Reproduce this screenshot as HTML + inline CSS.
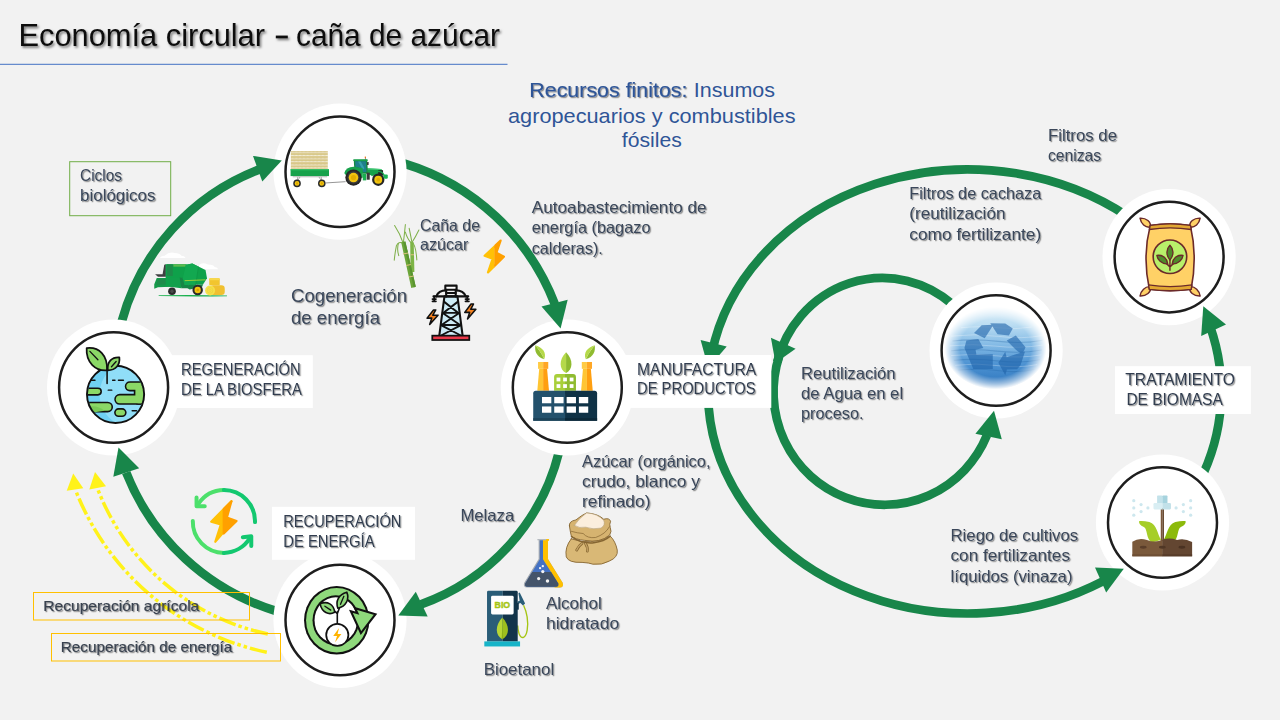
<!DOCTYPE html>
<html><head><meta charset="utf-8"><title>Economía circular</title>
<style>
html,body{margin:0;padding:0;background:#f2f2f2;}
body{width:1280px;height:720px;overflow:hidden;position:relative;font-family:"Liberation Sans",sans-serif;}
svg{position:absolute;left:0;top:0;display:block}
text{font-family:"Liberation Sans",sans-serif;}
</style></head><body>
<svg width="1280" height="720" viewBox="0 0 1280 720">
<defs>
<filter id="ts" x="-10%" y="-30%" width="120%" height="170%"><feDropShadow dx="1.2" dy="1.2" stdDeviation="0.6" flood-color="#000" flood-opacity="0.42"/></filter>
<filter id="ts2" x="-10%" y="-30%" width="120%" height="170%"><feDropShadow dx="1.5" dy="1.8" stdDeviation="1.2" flood-color="#000" flood-opacity="0.5"/></filter>
</defs>
<rect width="1280" height="720" fill="#f2f2f2"/>

<rect x="0" y="63.8" width="507.5" height="1" fill="#4472C4"/>
<g filter="url(#ts2)" font-size="32" fill="#111"><text x="18.5" y="46" textLength="246.5" lengthAdjust="spacingAndGlyphs">Economía circular</text><rect x="275.8" y="35.6" width="12" height="2.7"/><text x="296" y="46" textLength="204" lengthAdjust="spacingAndGlyphs">caña de azúcar</text></g>
<path d="M266.8,652.3 A264,264 0 0 1 75.5,490" fill="none" stroke="#FFF21A" stroke-width="3.5" stroke-dasharray="17.5 3 3.5 3 3.5 3"/>
<path d="M267.8,634 A234,234 0 0 1 97.5,488.5" fill="none" stroke="#FFF21A" stroke-width="3.5" stroke-dasharray="17.5 3 3.5 3 3.5 3"/>
<polygon points="73.2,473.5 66.7,490.8 83.3,488.3" fill="#FFF21A"/>
<polygon points="95.0,472.1 89.3,489.6 106.0,486.3" fill="#FFF21A"/>
<path d="M121.6,322.0 A227,227 0 0 1 259.5,169.3" fill="none" stroke="#18864A" stroke-width="8.8" />
<path d="M404.0,163.5 A235,235 0 0 1 554.8,304.0" fill="none" stroke="#18864A" stroke-width="8.8" />
<path d="M559.0,452.0 A218,218 0 0 1 421.0,604.3" fill="none" stroke="#18864A" stroke-width="8.8" />
<path d="M276.0,611.0 A235,235 0 0 1 126.2,472.5" fill="none" stroke="#18864A" stroke-width="8.8" />
<path d="M1128.1,216.6 A260,222 0 0 0 711.9,353.0" fill="none" stroke="#18864A" stroke-width="8.7" />
<path d="M708.6,407.0 A260,222 0 0 0 1113.4,575.5" fill="none" stroke="#18864A" stroke-width="8.7" />
<path d="M1199.4,481.8 A253.3,222 0 0 0 1210.2,326.6" fill="none" stroke="#18864A" stroke-width="8.7" />
<path d="M952.6,304.4 A109,113 0 0 0 777.2,361.8" fill="none" stroke="#18864A" stroke-width="8.7" />
<path d="M779.2,356.1 A111,113 0 0 0 987.0,435.2" fill="none" stroke="#18864A" stroke-width="8.7" />
<polygon points="708.3,368.0 700.6,340.0 726.7,346.4" fill="#18864A"/>
<rect x="170" y="355.2" width="142.8" height="52.8" fill="#fff"/>
<rect x="600" y="355" width="171.3" height="52.9" fill="#fff"/>
<rect x="272" y="506.8" width="143" height="53" fill="#fff"/>
<rect x="1115" y="366.2" width="135.9" height="47.8" fill="#fff"/>
<ellipse cx="340.0" cy="171.7" rx="66.6" ry="68.1" fill="#fff"/>
<ellipse cx="113.6" cy="387.5" rx="66.6" ry="68.1" fill="#fff"/>
<ellipse cx="567.3" cy="387.5" rx="66.6" ry="68.1" fill="#fff"/>
<ellipse cx="340.0" cy="620.0" rx="66.6" ry="68.1" fill="#fff"/>
<ellipse cx="1169.1" cy="257.1" rx="66.6" ry="68.1" fill="#fff"/>
<ellipse cx="996.1" cy="350.5" rx="66.6" ry="68.1" fill="#fff"/>
<ellipse cx="1162.5" cy="522.5" rx="66.6" ry="68.1" fill="#fff"/>
<polygon points="281.8,160.4 253.0,155.9 262.3,181.6" fill="#18864A"/>
<polygon points="560.6,328.5 541.5,306.5 567.7,299.8" fill="#18864A"/>
<polygon points="398.3,615.4 415.8,591.7 427.7,616.4" fill="#18864A"/>
<polygon points="118.5,447.5 113.3,476.7 139.2,468.3" fill="#18864A"/>
<polygon points="775.5,363.0 770.9,337.8 795.6,348.7" fill="#18864A"/>
<polygon points="994.0,410.7 975.4,433.8 1001.8,439.2" fill="#18864A"/>
<polygon points="1123.8,568.8 1095.0,567.5 1106.2,592.5" fill="#18864A"/>
<polygon points="1203.3,306.2 1201.2,336.0 1226.0,324.6" fill="#18864A"/>
<ellipse cx="340.0" cy="171.7" rx="54.5" ry="55.3" fill="#fff" stroke="#1e1e1e" stroke-width="2.5"/>
<ellipse cx="113.6" cy="387.5" rx="54.5" ry="55.3" fill="#fff" stroke="#1e1e1e" stroke-width="2.5"/>
<ellipse cx="567.3" cy="387.5" rx="54.5" ry="55.3" fill="#fff" stroke="#1e1e1e" stroke-width="2.5"/>
<ellipse cx="340.0" cy="620.0" rx="54.5" ry="55.3" fill="#fff" stroke="#1e1e1e" stroke-width="2.5"/>
<ellipse cx="1169.1" cy="257.1" rx="54.5" ry="55.3" fill="#fff" stroke="#1e1e1e" stroke-width="2.5"/>
<ellipse cx="996.1" cy="350.5" rx="54.5" ry="55.3" fill="#fff" stroke="#1e1e1e" stroke-width="2.5"/>
<ellipse cx="1162.5" cy="522.5" rx="54.5" ry="55.3" fill="#fff" stroke="#1e1e1e" stroke-width="2.5"/>
<!-- tractor + trailer -->
<defs>
<pattern id="hay" width="44" height="72" patternUnits="userSpaceOnUse">
<rect width="44" height="72" fill="#F6F2E2"/>
<path d="M0,34 L11,6 L22,34 L33,6 L44,34 M0,70 L11,42 L22,70 L33,42 L44,70" stroke="#CBB665" stroke-width="9" fill="none"/>
<path d="M0,22 L44,22 M0,58 L44,58" stroke="#DCCB8C" stroke-width="7"/>
</pattern>
</defs>
<g transform="translate(285,140) scale(0.08594)">
<rect x="68" y="128" width="430" height="213" fill="url(#hay)"/>
<rect x="65" y="340" width="447" height="80" fill="#17A24B"/>
<rect x="65" y="340" width="447" height="13" fill="#2FBF63"/>
<path d="M90,428 L490,428" stroke="#8a8a8a" stroke-width="7"/>
<path d="M175,430 L142,480 M150,430 L140,470 M395,430 L428,480 M420,430 L428,470" stroke="#666" stroke-width="6" fill="none"/>
<circle cx="140" cy="505" r="44" fill="#2b2b2b"/><circle cx="140" cy="505" r="27" fill="#F2C40F"/><circle cx="140" cy="505" r="12" fill="#D9A400"/>
<circle cx="428" cy="505" r="44" fill="#2b2b2b"/><circle cx="428" cy="505" r="27" fill="#F2C40F"/><circle cx="428" cy="505" r="12" fill="#D9A400"/>
<path d="M470,500 L705,485" stroke="#666" stroke-width="8"/>
<!-- tractor -->
<path d="M958,328 L1118,338 L1140,362 L1140,408 L1010,414 L958,398 Z" fill="#17A24B"/>
<path d="M958,328 L1118,338 L1128,350 L958,342 Z" fill="#49CF7C"/>
<rect x="1085" y="352" width="56" height="56" fill="#242424"/>
<path d="M800,232 L956,230 L966,392 L905,392 L842,332 L806,332 Z" fill="#138A41"/>
<path d="M816,248 L940,246 L948,372 L912,374 L852,318 L820,318 Z" fill="#1E7F8C"/>
<path d="M850,250 L880,250 L925,330 L905,345 Z" fill="#39A8B3" opacity="0.8"/>
<rect x="794" y="224" width="168" height="20" rx="6" fill="#19A04B"/>
<rect x="928" y="193" width="14" height="20" fill="#E8731A"/><rect x="932" y="212" width="6" height="14" fill="#333"/>
<rect x="955" y="255" width="18" height="36" rx="6" fill="#2e2e2e"/>
<rect x="950" y="380" width="36" height="82" fill="#3a3a3a"/>
<rect x="905" y="395" width="40" height="75" fill="#19B050"/>
<path d="M690,385 Q705,318 800,312 L905,330 L905,440 L800,440 L700,400 Z" fill="#17A24B"/>
<circle cx="797" cy="437" r="95" fill="#262626"/><circle cx="797" cy="437" r="72" fill="#3b3b3b"/><circle cx="797" cy="437" r="56" fill="#F2C40F"/><circle cx="797" cy="437" r="30" fill="#E2AE00"/>
<path d="M1010,420 A76,76 0 0 1 1158,430" fill="none" stroke="#17A24B" stroke-width="14"/>
<circle cx="1085" cy="462" r="72" fill="#262626"/><circle cx="1085" cy="462" r="46" fill="#F2C40F"/><circle cx="1085" cy="462" r="22" fill="#E2AE00"/>
<rect x="1148" y="400" width="48" height="50" rx="14" fill="#1BB554"/>
</g>
<!-- earth -->
<defs><clipPath id="globeClip"><circle cx="326" cy="407" r="190"/></clipPath></defs>
<g transform="translate(68,335) scale(0.14586)">
<circle cx="326" cy="407" r="196" fill="#90DEF8"/>
<path d="M326,211 A196,196 0 0 0 326,603 A230,230 0 0 1 326,211 Z" fill="#6FD0F3"/>
<g clip-path="url(#globeClip)">
<g fill="#111" stroke="#111" stroke-width="22" stroke-linejoin="round">
<rect x="400" y="328" width="140" height="48" rx="24"/><rect x="462" y="350" width="90" height="118" rx="20"/><rect x="328" y="414" width="200" height="54" rx="27"/>
<rect x="110" y="371" width="112" height="34" rx="17"/>
<rect x="100" y="468" width="198" height="52" rx="26"/>
<rect x="327" y="512" width="64" height="40" rx="20"/>
</g>
<g fill="#8BD867">
<rect x="400" y="328" width="140" height="48" rx="24"/><rect x="462" y="350" width="90" height="118" rx="20"/><rect x="328" y="414" width="200" height="54" rx="27"/>
<rect x="110" y="371" width="112" height="34" rx="17"/>
<rect x="100" y="468" width="198" height="52" rx="26"/>
<rect x="327" y="512" width="64" height="40" rx="20"/>
</g>
<path d="M120,500 Q190,470 250,520 L120,540 Z" fill="#79C957"/>
</g>
<circle cx="326" cy="407" r="196" fill="none" stroke="#111" stroke-width="13"/>
<path d="M306,310 L322,310 M346,310 L380,310 M276,378 L300,378 M160,310 L185,310 M440,520 L470,520" stroke="#111" stroke-width="10" stroke-linecap="round"/>
<path d="M268,242 C190,248 122,190 128,90 C215,80 272,140 268,242 Z" fill="#8BD867" stroke="#111" stroke-width="12" stroke-linejoin="round"/>
<path d="M150,112 L205,170" stroke="#111" stroke-width="9" stroke-linecap="round"/>
<path d="M272,242 C268,182 300,150 352,153 C358,202 330,242 272,242 Z" fill="#8BD867" stroke="#111" stroke-width="12" stroke-linejoin="round"/>
<path d="M298,218 L330,182" stroke="#111" stroke-width="9" stroke-linecap="round"/>
<path d="M268,238 L268,332" stroke="#111" stroke-width="11" stroke-linecap="round"/>
</g>
<!-- factory -->
<g transform="translate(522,335) scale(0.14586)">
<!-- chimneys -->
<g id="chim">
<path d="M118,232 L145,232 L145,382 L105,382 Z" fill="#FFC533"/><path d="M145,232 L172,232 L185,382 L145,382 Z" fill="#FF9F10"/>
<rect x="110" y="185" width="35" height="47" fill="#FFCB45"/><rect x="145" y="185" width="35" height="47" fill="#FFA726"/>
</g>
<use href="#chim" x="300"/>
<!-- green building -->
<path d="M220,382 L220,288 Q220,268 240,268 L295,268 L295,382 Z" fill="#A8CF3A"/>
<path d="M295,268 L350,268 Q370,268 370,288 L370,382 L295,382 Z" fill="#8FBB30"/>
<g fill="#fff"><rect x="237" y="292" width="26" height="26"/><rect x="282" y="292" width="26" height="26"/><rect x="327" y="292" width="26" height="26"/><rect x="237" y="337" width="26" height="26"/><rect x="282" y="337" width="26" height="26"/><rect x="327" y="337" width="26" height="26"/></g>
<!-- base -->
<path d="M77,588 L77,400 Q77,382 95,382 L295,382 L295,588 Z" fill="#23516C"/>
<path d="M295,382 L497,382 Q515,382 515,400 L515,588 L295,588 Z" fill="#0F3246"/>
<rect x="77" y="570" width="218" height="18" fill="#1B4258"/><rect x="295" y="570" width="220" height="18" fill="#0B2838"/>
<g fill="#fff"><rect x="137" y="425" width="64" height="43"/><rect x="221" y="425" width="64" height="43"/><rect x="306" y="425" width="64" height="43"/><rect x="390" y="425" width="64" height="43"/>
<rect x="137" y="490" width="64" height="43"/><rect x="221" y="490" width="64" height="43"/><rect x="306" y="490" width="64" height="43"/><rect x="390" y="490" width="64" height="43"/></g>
<!-- leaves -->
<path d="M302,118 C250,170 255,238 302,260 Z" fill="#B5D94A"/><path d="M302,118 C354,170 349,238 302,260 Z" fill="#8FBB30"/>
<path d="M152,166 C100,150 84,110 92,70 C112,95 135,125 152,166 Z" fill="#8FBB30"/><path d="M152,166 C172,122 140,84 92,70 C112,95 135,125 152,166 Z" fill="#B5D94A"/>
<path d="M438,166 C490,150 506,110 498,70 C478,95 455,125 438,166 Z" fill="#8FBB30"/><path d="M438,166 C418,122 450,84 498,70 C478,95 455,125 438,166 Z" fill="#B5D94A"/>
</g>
<!-- energy recovery ring -->
<g transform="translate(295,570) scale(0.14586)">
<ellipse cx="286" cy="345" rx="224" ry="235" fill="#111"/>
<ellipse cx="286" cy="345" rx="210" ry="221" fill="#8FD97C"/>
<ellipse cx="280" cy="345" rx="160" ry="172" fill="#111"/>
<ellipse cx="280" cy="345" rx="146" ry="158" fill="#fff"/>
<path d="M383,283 L428,296 L412,262 L552,303 L452,432 Z" fill="#8FD97C" stroke="#111" stroke-width="14" stroke-linejoin="miter"/>
<path d="M290,372 L290,288 M290,300 L262,272 M290,300 L312,240" stroke="#111" stroke-width="11" stroke-linecap="round" fill="none"/>
<path d="M272,290 C232,312 185,292 172,232 C222,210 266,236 272,290 Z" fill="#8FD97C" stroke="#111" stroke-width="11" stroke-linejoin="round"/>
<path d="M205,248 L245,275" stroke="#111" stroke-width="9" stroke-linecap="round"/>
<path d="M294,262 C276,215 300,166 355,152 C375,200 350,250 294,262 Z" fill="#8FD97C" stroke="#111" stroke-width="11" stroke-linejoin="round"/>
<path d="M335,180 L312,235" stroke="#111" stroke-width="9" stroke-linecap="round"/>
<circle cx="290" cy="445" r="76" fill="#fff" stroke="#111" stroke-width="12"/>
<path d="M302,398 L262,452 L288,452 L275,496 L318,438 L292,438 Z" fill="#FFB300"/>
</g>
<!-- fertiliser bag -->
<g transform="translate(1124,205) scale(0.14586)" stroke="#6B2A2A" stroke-linejoin="round">
<path d="M180,152 C146,156 116,128 110,90 C152,88 188,114 180,152 Z" fill="#FFD166" stroke-width="10"/>
<path d="M452,152 C486,156 516,128 522,90 C480,88 444,114 452,152 Z" fill="#FFD166" stroke-width="10"/>
<path d="M180,560 C146,556 114,588 110,624 C152,626 190,598 180,560 Z" fill="#FFD166" stroke-width="10"/>
<path d="M452,560 C486,556 518,588 522,624 C480,626 442,598 452,560 Z" fill="#FFD166" stroke-width="10"/>
<path d="M180,140 Q316,118 455,140 Q505,355 460,578 Q316,598 174,578 Q125,355 180,140 Z" fill="#FFD166" stroke-width="11"/>
<path d="M180,140 Q316,118 455,140 L461,168 Q316,146 174,168 Z" fill="#E2A832" stroke-width="9"/>
<path d="M168,548 Q316,572 466,548 L460,578 Q316,598 174,578 Z" fill="#E2A832" stroke-width="9"/>
<circle cx="315" cy="355" r="115" fill="#B8F06A" stroke-width="11"/>
<path d="M315,448 L315,330 M315,425 L285,395 M315,425 L345,395" stroke-width="10" stroke-linecap="round" fill="none"/>
<path d="M315,378 C285,342 290,300 315,275 C340,300 345,342 315,378 Z" fill="#4E8B2A" stroke-width="9"/>
<path d="M300,405 C255,405 230,375 225,345 C268,340 296,365 300,405 Z" fill="#4E8B2A" stroke-width="9"/>
<path d="M330,405 C375,405 400,375 405,345 C362,340 334,365 330,405 Z" fill="#4E8B2A" stroke-width="9"/>
</g>
<!-- sprinkler plant -->
<g transform="translate(1117,470) scale(0.14586)">
<g fill="#CDE7EE"><circle cx="115" cy="210" r="11"/><circle cx="165" cy="237" r="11"/><circle cx="115" cy="260" r="11"/><circle cx="165" cy="285" r="11"/><circle cx="115" cy="310" r="11"/><circle cx="212" cy="260" r="11"/>
<circle cx="505" cy="210" r="11"/><circle cx="455" cy="237" r="11"/><circle cx="505" cy="260" r="11"/><circle cx="455" cy="285" r="11"/><circle cx="505" cy="310" r="11"/><circle cx="405" cy="260" r="11"/></g>
<rect x="300" y="262" width="11" height="225" fill="#7A573A"/><rect x="311" y="262" width="11" height="225" fill="#65462E"/>
<rect x="275" y="175" width="36" height="54" rx="5" fill="#C3E2EA"/><rect x="311" y="175" width="35" height="54" rx="5" fill="#A6D3DE"/>
<path d="M250,234 Q250,226 258,226 L311,226 L311,270 L258,270 Q250,270 250,262 Z" fill="#D9EEF3"/>
<path d="M311,226 L362,226 Q370,226 370,234 L370,262 Q370,270 362,270 L311,270 Z" fill="#C2E1E9"/>
<path d="M302,478 C276,440 275,372 222,356 Q178,346 152,350 Q146,376 184,390 C212,404 196,470 240,498 Z" fill="#A6CE28"/>
<path d="M320,478 C346,440 347,372 400,356 Q444,346 470,350 Q476,376 438,390 C410,404 426,470 382,498 Z" fill="#8CBA0B"/>
<path d="M105,592 L105,492 Q150,462 205,480 Q262,502 314,478 L314,592 Z" fill="#7A593B"/>
<path d="M311,478 Q360,462 412,480 Q462,466 515,494 L515,592 L311,592 Z" fill="#634631"/>
<rect x="105" y="578" width="206" height="14" fill="#6e4f34"/><rect x="311" y="578" width="204" height="14" fill="#573c29"/>
<ellipse cx="180" cy="530" rx="23" ry="10" fill="#5A3E2A"/><ellipse cx="311" cy="530" rx="23" ry="10" fill="#503725"/><ellipse cx="445" cy="530" rx="23" ry="10" fill="#4A3222"/>
</g>
<!-- water recycle -->
<defs>
<linearGradient id="wlin" x1="0" y1="0" x2="0" y2="1"><stop offset="0" stop-color="#E4F2FA"/><stop offset="0.22" stop-color="#BBDDF2"/><stop offset="0.45" stop-color="#86BCE6"/><stop offset="0.7" stop-color="#4C92D2"/><stop offset="1" stop-color="#2B72BA"/></linearGradient>
<radialGradient id="wrad" cx="0.5" cy="0.5" r="0.5"><stop offset="0" stop-color="#fff"/><stop offset="0.7" stop-color="#fff"/><stop offset="0.87" stop-color="#777"/><stop offset="1" stop-color="#000"/></radialGradient>
<mask id="wmask" maskUnits="userSpaceOnUse" x="0" y="0" width="830" height="720"><ellipse cx="400" cy="345" rx="368" ry="298" fill="url(#wrad)"/></mask>
</defs>
<g transform="translate(940,300) scale(0.13889)">
<g mask="url(#wmask)">
<ellipse cx="400" cy="345" rx="368" ry="298" fill="url(#wlin)"/>
<path d="M80,260 Q250,240 420,262 T740,255 M70,330 Q240,312 400,332 T740,325 M80,400 Q250,382 410,402 T730,395 M110,470 Q260,452 410,472 T700,465 M150,200 Q300,185 420,200 T660,195" stroke="#fff" stroke-width="7" fill="none" opacity="0.28"/>
<path d="M90,295 Q250,278 420,298 T740,290 M80,365 Q250,348 410,368 T735,360 M100,435 Q250,418 410,438 T720,430 M130,505 Q270,490 410,508 T680,500" stroke="#1F5FA3" stroke-width="8" fill="none" opacity="0.30"/>
<g fill="#1F63AA" opacity="0.6">
<path d="M245,238 L300,182 L385,178 L322,276 Z"/>
<path d="M362,168 L470,170 L524,205 L496,256 L414,246 Z"/>
<path d="M480,292 L546,256 L616,340 L592,392 L548,360 Z"/>
<path d="M612,370 L580,470 L555,498 L482,500 L470,542 L420,452 L470,372 L480,412 Z"/>
<path d="M190,292 L276,280 L312,346 L256,358 L262,392 L380,390 L380,496 L240,496 L176,346 Z"/>
</g>
</g>
</g>
<!-- harvester/baler -->
<g transform="translate(148,245) scale(0.08333)">
<path d="M145,155 Q150,130 200,128 Q250,80 320,95 Q380,95 400,128 Q445,135 450,155 Z" fill="#fff"/>
<path d="M560,290 Q565,262 605,258 Q640,195 720,235 Q790,235 800,265 Q838,268 842,290 Z" fill="#fff"/>
<path d="M128,604 Q540,596 948,606 L948,614 Q540,622 128,612 Z" fill="#1BB14F"/>
<!-- front body -->
<path d="M105,395 L270,395 L270,500 L120,508 L75,525 L75,470 Z" fill="#14994A"/>
<path d="M120,410 L255,410 L255,470 L100,478 Z" fill="#1E8B4A"/>
<path d="M85,350 L175,350 L195,238 L215,232 L215,380 L120,380 Z" fill="#3f3f41"/>
<rect x="212" y="230" width="250" height="270" fill="#0FA14A"/>
<rect x="228" y="232" width="70" height="140" fill="#1E8B4A"/>
<rect x="305" y="232" width="150" height="28" fill="#5DBB4F"/>
<path d="M260,395 L400,395 L400,520 L260,500 Z" fill="#12A04C"/>
<path d="M380,390 L440,400 L500,520 L400,520 Z" fill="#178546"/>
<path d="M455,238 L532,222 L690,300 L708,400 L662,472 L440,482 L418,400 Z" fill="#0FA14A"/>
<path d="M455,238 L532,222 L610,262 L575,478 L440,482 L418,400 Z" fill="#12A850"/>
<path d="M605,262 L572,478" stroke="#0B8A3E" stroke-width="6"/>
<path d="M440,428 L690,418" stroke="#B7D433" stroke-width="10"/>
<path d="M440,482 L662,472 L650,500 L500,535 L450,500 Z" fill="#178546"/>
<circle cx="288" cy="555" r="46" fill="#2b2b2b"/><circle cx="288" cy="555" r="20" fill="#4a4a4a"/>
<circle cx="596" cy="540" r="63" fill="#2b2b2b"/><circle cx="596" cy="540" r="38" fill="#F2C40F"/><circle cx="596" cy="540" r="16" fill="#D9A400"/>
<!-- bales -->
<rect x="735" y="400" width="126" height="84" rx="10" fill="#F2C52E"/><rect x="735" y="400" width="126" height="22" rx="10" fill="#F7D84B"/>
<rect x="745" y="484" width="176" height="116" rx="40" fill="#F0C030"/>
<circle cx="745" cy="545" r="60" fill="#F5E04A"/><circle cx="745" cy="545" r="34" fill="none" stroke="#E9CF3A" stroke-width="7"/><circle cx="745" cy="545" r="14" fill="none" stroke="#E9CF3A" stroke-width="6"/>
</g>
<!-- sugar cane, bolt, pylon -->
<g transform="translate(388,220) scale(0.17367)">
<!-- cane leaves -->
<g fill="none" stroke="#7FB04A" stroke-width="6" stroke-linecap="round">
<path d="M88,135 Q70,80 38,32"/><path d="M88,135 Q95,80 100,26"/><path d="M88,135 Q60,120 48,150 Q40,190 36,232"/><path d="M92,135 Q110,160 112,215"/>
<path d="M138,130 Q130,85 122,48"/><path d="M138,130 Q160,95 178,58"/><path d="M138,130 Q160,140 166,230"/><path d="M132,130 Q112,110 100,70"/>
<path d="M60,135 Q50,170 62,205"/>
</g>
<path d="M128,128 L148,128 L152,300 L130,300 Z" fill="#7DB446"/>
<path d="M76,128 L100,124 L160,385 L134,392 Z" fill="#6BA539"/>
<path d="M88,126 L100,124 L160,385 L148,388 Z" fill="#5A9430"/>
<g stroke="#D9C07A" stroke-width="6"><path d="M86,196 L116,190"/><path d="M104,262 L132,256"/><path d="M120,328 L148,322"/><path d="M130,200 L150,200"/></g>
<!-- bolt moved -->
<!-- pylon -->
<g stroke="#111" stroke-width="12" stroke-linejoin="round" stroke-linecap="round">
<path d="M325,440 L400,440 L430,668 L295,668 Z" fill="#CDEBF5"/>
<path d="M322,470 L405,535 M403,470 L318,535 M315,535 L415,605 M410,535 L308,605 M305,605 L425,668 M420,605 L300,668 M318,535 L408,535 M308,605 L418,605" fill="none" stroke-width="11"/>
<rect x="330" y="378" width="65" height="24" fill="#fff"/><path d="M335,420 L390,420" fill="none"/>
<path d="M335,402 L335,440 M390,402 L390,440" fill="none"/>
<path d="M262,440 L462,440" fill="none"/>
<path d="M335,405 Q290,405 278,440 M390,405 Q435,405 448,440" fill="none"/>
<path d="M266,440 L266,468 M256,455 L276,455 M256,468 L276,468 M456,440 L456,468 M446,455 L466,455 M446,468 L466,468" fill="none" stroke-width="10"/>
<path d="M262,518 L225,565 L252,565 L240,602 L288,548 L258,548 L275,518 Z" fill="#F58220" stroke-width="9"/>
<path d="M478,484 L442,532 L470,532 L458,570 L506,514 L476,514 L492,484 Z" fill="#F58220" stroke-width="9"/>
</g>
<rect x="255" y="666" width="213" height="25" fill="#E8394A" stroke="#111" stroke-width="10"/>
</g>
<!-- bolt (source coords) -->
<defs><clipPath id="bl"><rect x="470" y="230" width="24.6" height="60"/></clipPath><clipPath id="br"><rect x="494.3" y="230" width="40" height="60"/></clipPath></defs>
<g stroke-linejoin="round" stroke-width="2.2">
<path id="boltp" d="M500.6,240.6 L484.6,255.8 L492.6,258.8 L488,272.4 L503.9,256.6 L496.4,252.6 Z" fill="#FFC107" stroke="#FFC107" clip-path="url(#bl)"/>
<path d="M500.6,240.6 L484.6,255.8 L492.6,258.8 L488,272.4 L503.9,256.6 L496.4,252.6 Z" fill="#FFA000" stroke="#FFA000" clip-path="url(#br)"/>
</g>
<!-- energy recycle icon -->
<g transform="translate(180,478) scale(0.1208)" fill="none" stroke-width="33" stroke-linecap="round" stroke-linejoin="round">
<path d="M363,100 A258,258 0 0 0 152,215" stroke="#4CE06B"/>
<path d="M621,365 A258,258 0 0 0 363,100" stroke="#13C870"/>
<path d="M137,162 L137,234 L205,234" stroke="#4CE06B"/>
<path d="M106,355 A258,258 0 0 0 363,620" stroke="#4CE06B"/>
<path d="M363,620 A258,258 0 0 0 578,498" stroke="#13C870"/>
<path d="M520,490 L590,482 L590,562" stroke="#13C870"/>
<path d="M426,192 L362,256 L362,448 L292,528 L338,385 L258,362 Z" fill="#FFC107" stroke="#FFC107" stroke-width="18"/>
<path d="M426,192 L388,328 L468,356 L362,460 L362,256 Z" fill="#FFA000" stroke="#FFA000" stroke-width="18"/>
</g>
<!-- flask, sack, bio pump -->
<g transform="translate(478,505) scale(0.20833)">
<!-- sack -->
<g transform="translate(369.6,0) scale(0.4332)" stroke="#866632" stroke-width="10" stroke-linejoin="round" stroke-linecap="round">
<path d="M180,375 Q105,470 125,575 Q150,642 300,636 Q380,640 420,656 Q520,668 600,622 Q702,580 690,500 Q670,400 612,345 Q400,455 180,375 Z" fill="#D9B876"/>
<path d="M160,232 Q150,180 232,165 Q300,110 350,88 Q480,98 540,158 Q600,138 616,180 Q600,215 612,250 Q632,292 606,332 Q500,425 330,392 Q220,382 180,342 Q168,290 160,232 Z" fill="#D6B370"/>
<path d="M182,292 Q250,312 312,316 Q360,372 450,360 Q560,322 602,242" fill="none" stroke-width="8"/>
<path d="M215,226 Q262,150 350,88 Q470,94 540,170 Q562,222 510,256 Q420,276 340,246 Q270,262 215,226 Z" fill="#FBEEDD" stroke="#B9A583" stroke-width="7"/>
<path d="M182,350 Q300,432 430,418 Q545,404 612,345" fill="none" stroke-width="16"/>
<path d="M300,425 Q262,452 240,500 M338,428 Q365,465 358,512" fill="none" stroke-width="30"/>
<path d="M300,425 Q262,452 240,500 M338,428 Q365,465 358,512" fill="none" stroke="#C7A566" stroke-width="14"/>
</g>
<!-- flask -->
<g transform="translate(177.6,120) scale(0.4332)">
<path d="M262,108 L365,108 L365,322 L528,585 Q545,635 495,638 L135,638 Q85,635 102,585 L262,322 Z" fill="#A3A9B0"/>
<path d="M310,108 L365,108 L365,322 L528,585 Q545,635 495,638 L440,638 L310,330 Z" fill="#FFC000"/>
<path d="M275,112 L310,112 L310,325 L478,590 Q490,628 455,630 L140,630 Q100,628 115,590 L275,325 Z" fill="#4472C4"/>
<path d="M190,465 L400,465 L478,590 Q490,628 455,630 L140,630 Q100,628 115,590 Z" fill="#44546A"/>
<rect x="248" y="100" width="100" height="14" fill="#B4B9BF"/><rect x="345" y="100" width="32" height="20" fill="#FFC000"/>
<g fill="#F4F4F4"><circle cx="308" cy="400" r="13"/><circle cx="278" cy="422" r="13"/><circle cx="308" cy="460" r="18"/><circle cx="262" cy="538" r="18"/><circle cx="360" cy="565" r="19"/></g>
</g>
<!-- pump -->
<g transform="translate(0,384) scale(0.4332)">
<path d="M505,225 C540,300 560,400 545,500 C530,590 480,610 455,540 C445,510 440,480 440,450" fill="none" stroke="#A5C514" stroke-width="15"/>
<path d="M448,92 L462,84 L522,205 L498,228 L470,200 L440,210 L440,182 L462,175 Z" fill="#2A5D78"/>
<rect x="432" y="198" width="20" height="75" rx="5" fill="#12344A"/>
<path d="M100,625 L100,80 Q100,65 115,65 L275,65 L275,625 Z" fill="#2A5D78"/>
<path d="M275,65 L425,65 Q440,65 440,80 L440,625 L275,625 Z" fill="#12344A"/>
<rect x="70" y="625" width="396" height="56" fill="#17B4C8"/>
<rect x="145" y="120" width="250" height="206" rx="16" fill="#fff"/>
<text x="270" y="260" font-size="104" font-weight="bold" fill="#A5C514" stroke="#A5C514" stroke-width="5" text-anchor="middle" textLength="172" lengthAdjust="spacingAndGlyphs" font-family="Liberation Sans, sans-serif">BIO</text>
<path d="M270,360 C185,450 190,560 270,600 Z" fill="#B8D636"/><path d="M270,360 C355,450 350,560 270,600 Z" fill="#9DBE1E"/>
<path d="M270,440 L262,598 L278,598 Z" fill="#8CAE12"/>
</g>
</g>

<rect x="69.7" y="161.7" width="101" height="54" fill="none" stroke="#70AD47" stroke-width="1"/>
<rect x="33.5" y="592.5" width="216" height="27.5" fill="none" stroke="#FFC000" stroke-width="1"/>
<rect x="51.5" y="633.5" width="229" height="27.5" fill="none" stroke="#FFC000" stroke-width="1"/>
<text x="529.3" y="96.7" font-size="21" fill="#2F5597" font-weight="normal" text-anchor="start" textLength="158.2" lengthAdjust="spacingAndGlyphs" filter="url(#ts)" stroke="#2F5597" stroke-width="0.18">Recursos finitos:</text>
<text x="693.8" y="96.7" font-size="21" fill="#2F5597" font-weight="normal" text-anchor="start" textLength="81.2" lengthAdjust="spacingAndGlyphs">Insumos</text>
<text x="508.0" y="122.7" font-size="21" fill="#2F5597" font-weight="normal" text-anchor="start" textLength="287.5" lengthAdjust="spacingAndGlyphs">agropecuarios y combustibles</text>
<text x="621.8" y="147.2" font-size="21" fill="#2F5597" font-weight="normal" text-anchor="start" textLength="60.0" lengthAdjust="spacingAndGlyphs">fósiles</text>
<text x="80.0" y="181.2" font-size="16.5" fill="#3A475A" font-weight="normal" text-anchor="start" textLength="42.0" lengthAdjust="spacingAndGlyphs" filter="url(#ts)">Ciclos</text>
<text x="80.0" y="200.8" font-size="16.5" fill="#3A475A" font-weight="normal" text-anchor="start" textLength="75.5" lengthAdjust="spacingAndGlyphs" filter="url(#ts)">biológicos</text>
<text x="420.0" y="231.1" font-size="16.5" fill="#3A475A" font-weight="normal" text-anchor="start" textLength="60.0" lengthAdjust="spacingAndGlyphs" filter="url(#ts)">Caña de</text>
<text x="420.0" y="250.4" font-size="16.5" fill="#3A475A" font-weight="normal" text-anchor="start" textLength="48.4" lengthAdjust="spacingAndGlyphs" filter="url(#ts)">azúcar</text>
<text x="531.7" y="213.1" font-size="16.5" fill="#3A475A" font-weight="normal" text-anchor="start" textLength="175.0" lengthAdjust="spacingAndGlyphs" filter="url(#ts)">Autoabastecimiento de</text>
<text x="531.7" y="233.0" font-size="16.5" fill="#3A475A" font-weight="normal" text-anchor="start" textLength="118.8" lengthAdjust="spacingAndGlyphs" filter="url(#ts)">energía (bagazo</text>
<text x="531.7" y="253.7" font-size="16.5" fill="#3A475A" font-weight="normal" text-anchor="start" textLength="71.1" lengthAdjust="spacingAndGlyphs" filter="url(#ts)">calderas).</text>
<text x="291.0" y="302.2" font-size="18.5" fill="#3A475A" font-weight="normal" text-anchor="start" textLength="116.0" lengthAdjust="spacingAndGlyphs" filter="url(#ts)">Cogeneración</text>
<text x="291.0" y="324.4" font-size="18.5" fill="#3A475A" font-weight="normal" text-anchor="start" textLength="89.0" lengthAdjust="spacingAndGlyphs" filter="url(#ts)">de energía</text>
<text x="181.1" y="374.7" font-size="16.5" fill="#313D4F" font-weight="normal" text-anchor="start" textLength="119.5" lengthAdjust="spacingAndGlyphs" filter="url(#ts)">REGENERACIÓN</text>
<text x="181.1" y="394.7" font-size="16.5" fill="#313D4F" font-weight="normal" text-anchor="start" textLength="120.8" lengthAdjust="spacingAndGlyphs" filter="url(#ts)">DE LA BIOSFERA</text>
<text x="637.0" y="375.0" font-size="16.5" fill="#313D4F" font-weight="normal" text-anchor="start" textLength="119.2" lengthAdjust="spacingAndGlyphs" filter="url(#ts)">MANUFACTURA</text>
<text x="637.0" y="394.4" font-size="16.5" fill="#313D4F" font-weight="normal" text-anchor="start" textLength="118.7" lengthAdjust="spacingAndGlyphs" filter="url(#ts)">DE PRODUCTOS</text>
<text x="582.0" y="467.1" font-size="16.5" fill="#3A475A" font-weight="normal" text-anchor="start" textLength="128.5" lengthAdjust="spacingAndGlyphs" filter="url(#ts)">Azúcar (orgánico,</text>
<text x="582.0" y="486.9" font-size="16.5" fill="#3A475A" font-weight="normal" text-anchor="start" textLength="118.0" lengthAdjust="spacingAndGlyphs" filter="url(#ts)">crudo,  blanco y</text>
<text x="582.0" y="506.7" font-size="16.5" fill="#3A475A" font-weight="normal" text-anchor="start" textLength="68.4" lengthAdjust="spacingAndGlyphs" filter="url(#ts)">refinado)</text>
<text x="460.4" y="520.6" font-size="16.5" fill="#3A475A" font-weight="normal" text-anchor="start" textLength="53.9" lengthAdjust="spacingAndGlyphs" filter="url(#ts)">Melaza</text>
<text x="283.2" y="527.1" font-size="16.5" fill="#313D4F" font-weight="normal" text-anchor="start" textLength="118.2" lengthAdjust="spacingAndGlyphs" filter="url(#ts)">RECUPERACIÓN</text>
<text x="283.2" y="547.0" font-size="16.5" fill="#313D4F" font-weight="normal" text-anchor="start" textLength="91.4" lengthAdjust="spacingAndGlyphs" filter="url(#ts)">DE ENERGÍA</text>
<text x="545.9" y="609.2" font-size="16.5" fill="#3A475A" font-weight="normal" text-anchor="start" textLength="55.9" lengthAdjust="spacingAndGlyphs" filter="url(#ts)">Alcohol</text>
<text x="545.9" y="629.3" font-size="16.5" fill="#3A475A" font-weight="normal" text-anchor="start" textLength="73.3" lengthAdjust="spacingAndGlyphs" filter="url(#ts)">hidratado</text>
<text x="483.7" y="674.5" font-size="16.5" fill="#3A475A" font-weight="normal" text-anchor="start" textLength="70.5" lengthAdjust="spacingAndGlyphs" filter="url(#ts)">Bioetanol</text>
<text x="43.3" y="611.0" font-size="15" fill="#39424f" font-weight="normal" text-anchor="start" textLength="156.0" lengthAdjust="spacingAndGlyphs" filter="url(#ts)" stroke="#39424f" stroke-width="0.22">Recuperación agrícola</text>
<text x="60.8" y="652.0" font-size="15" fill="#39424f" font-weight="normal" text-anchor="start" textLength="171.5" lengthAdjust="spacingAndGlyphs" filter="url(#ts)" stroke="#39424f" stroke-width="0.22">Recuperación de energía</text>
<text x="1048.0" y="140.5" font-size="16.5" fill="#3A475A" font-weight="normal" text-anchor="start" textLength="69.0" lengthAdjust="spacingAndGlyphs" filter="url(#ts)">Filtros de</text>
<text x="1048.0" y="160.5" font-size="16.5" fill="#3A475A" font-weight="normal" text-anchor="start" textLength="53.2" lengthAdjust="spacingAndGlyphs" filter="url(#ts)">cenizas</text>
<text x="909.3" y="198.7" font-size="16.5" fill="#3A475A" font-weight="normal" text-anchor="start" textLength="132.0" lengthAdjust="spacingAndGlyphs" filter="url(#ts)">Filtros de cachaza</text>
<text x="909.3" y="219.2" font-size="16.5" fill="#3A475A" font-weight="normal" text-anchor="start" textLength="96.2" lengthAdjust="spacingAndGlyphs" filter="url(#ts)">(reutilización</text>
<text x="909.3" y="239.5" font-size="16.5" fill="#3A475A" font-weight="normal" text-anchor="start" textLength="132.0" lengthAdjust="spacingAndGlyphs" filter="url(#ts)">como fertilizante)</text>
<text x="801.0" y="378.5" font-size="16.5" fill="#3A475A" font-weight="normal" text-anchor="start" textLength="94.6" lengthAdjust="spacingAndGlyphs" filter="url(#ts)">Reutilización</text>
<text x="801.0" y="398.5" font-size="16.5" fill="#3A475A" font-weight="normal" text-anchor="start" textLength="102.1" lengthAdjust="spacingAndGlyphs" filter="url(#ts)">de Agua en el</text>
<text x="801.0" y="419.1" font-size="16.5" fill="#3A475A" font-weight="normal" text-anchor="start" textLength="62.5" lengthAdjust="spacingAndGlyphs" filter="url(#ts)">proceso.</text>
<text x="1125.3" y="384.7" font-size="16.5" fill="#313D4F" font-weight="normal" text-anchor="start" textLength="109.7" lengthAdjust="spacingAndGlyphs" filter="url(#ts)">TRATAMIENTO</text>
<text x="1126.4" y="404.6" font-size="16.5" fill="#313D4F" font-weight="normal" text-anchor="start" textLength="96.4" lengthAdjust="spacingAndGlyphs" filter="url(#ts)">DE BIOMASA</text>
<text x="950.5" y="541.2" font-size="16.5" fill="#3A475A" font-weight="normal" text-anchor="start" textLength="127.7" lengthAdjust="spacingAndGlyphs" filter="url(#ts)">Riego de cultivos</text>
<text x="950.5" y="561.2" font-size="16.5" fill="#3A475A" font-weight="normal" text-anchor="start" textLength="119.5" lengthAdjust="spacingAndGlyphs" filter="url(#ts)">con fertilizantes</text>
<text x="950.5" y="582.0" font-size="16.5" fill="#3A475A" font-weight="normal" text-anchor="start" textLength="122.0" lengthAdjust="spacingAndGlyphs" filter="url(#ts)">líquidos (vinaza)</text>
</svg></body></html>
